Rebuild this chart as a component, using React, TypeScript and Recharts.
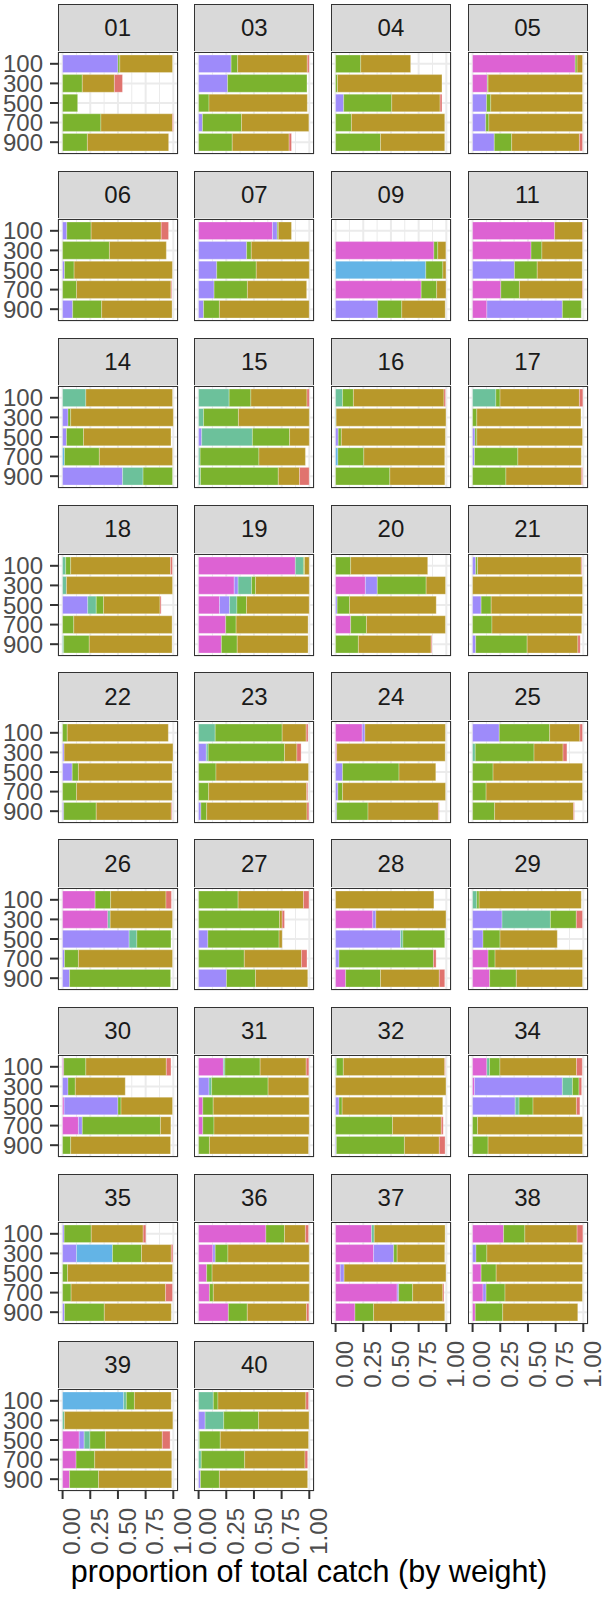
import React from "react";
import { BarChart, Bar, XAxis, YAxis, CartesianGrid } from "recharts";

// depth bands (y categories) and catch groups (stack order left -> right)
const DEPTHS = ["100", "300", "500", "700", "900"];
const GROUPS = ["g1", "g2", "g3", "g4", "g5", "g6", "g7"];
const GROUP_COLORS = ["#DD62D3", "#9E8BFA", "#63B4E6", "#6CC19B", "#7BB32E", "#B8982A", "#E0736E"];
const X_TICKS = [0, 0.25, 0.5, 0.75, 1];
const X_MINOR = [0.125, 0.375, 0.625, 0.875];

// proportions per depth row: [g1 .. g7]
const p01 = [[0, .50, 0, 0, .017, .476, 0], [0, 0, 0, 0, .178, .29, .073], [0, 0, 0, 0, .136, 0, 0], [0, 0, 0, 0, .346, .647, .007], [0, 0, 0, 0, .224, .734, 0]];
const p03 = [[0, .294, 0, 0, .059, .629, .017], [0, .262, 0, 0, .717, 0, 0], [0, 0, 0, 0, .094, .888, 0], [0, .035, 0, 0, .353, .608, 0], [0, 0, 0, 0, .304, .514, .021]];
const p04 = [[0, 0, 0, 0, .227, .451, 0], [0, 0, 0, 0, .017, .944, 0], [0, .073, 0, 0, .434, .437, .017], [0, 0, 0, 0, .143, .843, 0], [0, 0, 0, 0, .406, .58, 0]];
const p05 = [[.927, 0, 0, 0, .017, .049, 0], [.133, 0, 0, 0, .007, .853, 0], [0, .126, 0, 0, .038, .829, 0], [0, .119, 0, 0, .028, .846, 0], [0, .196, 0, 0, .157, .612, .028]];
const p06 = [[0, .038, 0, 0, .22, .633, .066], [0, 0, 0, 0, .423, .514, 0], [0, .017, 0, 0, .087, .888, 0], [0, 0, 0, 0, .126, .853, .007], [0, .091, 0, 0, .262, .636, 0]];
const p07 = [[.668, .042, 0, 0, .01, .119, 0], [0, .434, 0, 0, .042, .524, 0], [0, .164, 0, 0, .357, .479, 0], [0, .14, 0, 0, .301, .535, 0], [0, .045, 0, 0, .143, .811, 0]];
const p09 = [[0, 0, 0, 0, 0, 0, 0], [.888, 0, 0, 0, .035, .073, 0], [0, 0, .815, 0, .154, .028, 0], [.773, 0, 0, 0, .14, .084, 0], [0, .381, 0, 0, .217, .392, 0]];
const p11 = [[.741, 0, 0, 0, 0, .252, .005], [.528, 0, 0, 0, .098, .367, 0], [0, .378, 0, 0, .206, .406, 0], [.255, 0, 0, 0, .168, .57, .005], [.129, .682, 0, 0, .171, 0, 0]];
const p14 = [[0, 0, 0, .21, 0, .783, 0], [0, .049, 0, 0, .024, .927, 0], [0, .035, 0, 0, .154, .79, 0], [0, 0, .017, 0, .315, .661, 0], [0, .542, 0, .185, .266, 0, 0]];
const p15 = [[0, 0, 0, .276, .196, .507, .021], [0, 0, 0, .045, .315, .64, 0], [0, .028, 0, .458, .336, .178, 0], [0, 0, 0, .014, .531, .42, 0], [0, 0, 0, .017, .703, .192, .087]];
const p16 = [[0, 0, 0, .063, .098, .818, .014], [0, 0, 0, .005, 0, .992, 0], [0, .024, 0, 0, .028, .94, 0], [0, 0, .021, 0, .234, .731, 0], [0, 0, 0, 0, .49, .497, 0]];
const p17 = [[0, 0, 0, .21, .038, .717, .031], [0, 0, 0, 0, .038, .941, 0], [0, .021, 0, 0, .017, .955, 0], [0, .017, 0, 0, .392, .573, 0], [0, 0, 0, 0, .301, .682, .01]];
const p18 = [[0, 0, 0, .028, .045, .902, .017], [0, 0, 0, .035, 0, .958, 0], [0, .227, 0, .077, .066, .51, .01], [0, 0, 0, 0, .101, .888, 0], [0, 0, 0, .01, .231, .748, 0]];
const p19 = [[.874, 0, 0, .073, .01, .042, 0], [.322, .035, 0, .122, .035, .486, 0], [.189, .091, 0, .066, .087, .566, 0], [.245, 0, 0, 0, .094, .65, 0], [.206, 0, 0, 0, .143, .64, 0]];
const p20 = [[0, 0, 0, 0, .136, .696, 0], [.269, .108, 0, 0, .441, .175, 0], [0, .014, 0, 0, .112, .783, 0], [.136, 0, 0, 0, .143, .713, 0], [0, 0, 0, 0, .206, .657, .007]];
const p21 = [[0, .028, 0, 0, .017, .937, .007], [0, 0, 0, 0, 0, .993, 0], [0, .077, 0, 0, .091, .825, 0], [0, 0, 0, 0, .175, .811, 0], [0, .028, 0, 0, .465, .458, .021]];
const p22 = [[0, 0, 0, 0, .042, .913, 0], [0, .014, 0, 0, 0, .983, 0], [0, .087, 0, 0, .056, .846, 0], [0, 0, 0, 0, .126, .864, 0], [0, .01, 0, 0, .294, .678, .007]];
const p23 = [[0, 0, 0, .15, .605, .217, .017], [0, .07, 0, .017, .689, .112, .038], [0, 0, 0, 0, .157, .836, 0], [0, 0, 0, 0, .091, .885, .01], [0, .021, 0, 0, .052, .906, .017]];
const p24 = [[.241, .024, 0, 0, 0, .727, 0], [.01, 0, 0, 0, 0, .98, 0], [0, .063, 0, 0, .51, .332, 0], [0, .021, 0, 0, .042, .93, 0], [0, .01, 0, 0, .283, .636, .007]];
const p25 = [[0, .241, 0, 0, .455, .273, .024], [0, 0, 0, .024, .531, .262, .035], [0, 0, 0, 0, .185, .808, 0], [0, 0, 0, 0, .122, .871, 0], [0, 0, 0, 0, .199, .713, .007]];
const p26 = [[.294, 0, 0, 0, .14, .5, .049], [.409, 0, 0, .021, 0, .563, 0], [0, .601, 0, .07, .308, 0, 0], [0, .017, 0, 0, .126, .85, 0], [0, .063, 0, 0, .913, 0, 0]];
const p27 = [[0, 0, 0, 0, .357, .591, .049], [0, 0, 0, 0, .731, .024, .021], [0, .084, 0, 0, .643, .028, 0], [0, 0, 0, 0, .413, .517, .049], [0, .252, 0, 0, .262, .472, 0]];
const p28 = [[0, 0, 0, 0, 0, .888, 0], [.336, .028, 0, 0, 0, .633, 0], [0, .587, 0, .021, .378, 0, 0], [0, .031, 0, 0, .853, 0, .024], [.091, 0, 0, 0, .315, .531, .049]];
const p29 = [[0, 0, 0, .038, .021, .923, 0], [0, .266, 0, .437, .234, 0, .056], [0, .094, 0, 0, .154, .517, 0], [.14, 0, 0, 0, .063, .79, 0], [.154, 0, 0, 0, .241, .598, 0]];
const p30 = [[.01, 0, 0, 0, .2, .727, .042], [0, .049, 0, 0, .066, .451, 0], [.014, .486, 0, 0, .028, .465, 0], [.143, .035, 0, 0, .706, .094, 0], [0, 0, 0, 0, .073, .902, 0]];
const p31 = [[.224, 0, 0, .014, .318, .416, .024], [0, .094, 0, .024, .51, .367, 0], [.038, 0, 0, 0, .094, .867, 0], [.038, 0, 0, 0, .101, .86, 0], [0, 0, 0, 0, .098, .895, 0]];
const p32 = [[0, 0, 0, .007, .063, .916, .005], [0, 0, 0, 0, 0, .997, 0], [0, .031, 0, 0, .028, .909, 0], [0, 0, 0, 0, .514, .441, .017], [0, .007, 0, 0, .615, .315, .052]];
const p34 = [[.129, 0, 0, .024, .094, .692, .052], [.017, .794, 0, .091, .059, 0, .024], [0, .385, 0, .035, .126, .392, .031], [0, 0, 0, 0, .045, .948, 0], [0, 0, 0, 0, .14, .853, 0]];
const p35 = [[0, .014, 0, 0, .245, .469, .024], [0, .126, .325, 0, .262, .269, .014], [0, 0, 0, 0, .045, .948, 0], [0, 0, 0, 0, .077, .853, .063], [0, .017, 0, 0, .36, .605, 0]];
const p36 = [[.608, 0, 0, 0, .168, .189, .028], [.129, .021, 0, 0, .115, .734, 0], [.073, 0, 0, 0, .049, .878, 0], [.098, 0, 0, 0, .035, .867, 0], [.269, 0, 0, 0, .171, .535, .021]];
const p37 = [[.325, 0, 0, .024, 0, .64, 0], [.343, .182, 0, 0, .031, .43, 0], [.042, .035, 0, 0, 0, .92, 0], [.556, .014, 0, 0, .126, .273, .01], [.175, 0, 0, 0, .168, .643, 0]];
const p38 = [[.28, 0, 0, 0, .192, .472, .052], [0, .031, 0, 0, .098, .864, 0], [.077, 0, 0, 0, .136, .78, 0], [.094, .028, 0, 0, .171, .699, 0], [.024, 0, 0, 0, .248, .678, 0]];
const p39 = [[0, 0, .552, .024, .073, .332, 0], [0, 0, 0, .017, 0, .979, 0], [.15, .045, 0, .052, .14, .514, .07], [.122, 0, 0, 0, .168, .696, 0], [.063, 0, 0, 0, .262, .661, 0]];
const p40 = [[0, 0, 0, .133, .042, .794, .024], [0, .059, 0, .168, .315, .455, 0], [0, 0, 0, .007, .189, .797, 0], [0, 0, 0, .024, .392, .545, .024], [0, .017, 0, 0, .171, .797, 0]];

const PANEL_IDS = ["01", "03", "04", "05", "06", "07", "09", "11", "14", "15", "16", "17", "18", "19", "20", "21", "22", "23", "24", "25", "26", "27", "28", "29", "30", "31", "32", "34", "35", "36", "37", "38", "39", "40"];
const PANEL_VALUES = [p01, p03, p04, p05, p06, p07, p09, p11, p14, p15, p16, p17, p18, p19, p20, p21, p22, p23, p24, p25, p26, p27, p28, p29, p30, p31, p32, p34, p35, p36, p37, p38, p39, p40];

const FONT = "'Liberation Sans', Arial, sans-serif";
const NCOL = 4;
const COL0 = 57.7;
const COL_STEP = 136.6;
const ROW0 = 4;
const ROW_STEP = 167.09;
const PW = 120;
const PH = 102;
const STRIP_H = 48.3;
const Y_AXIS_W = 58;
const X_AXIS_H = 72;
const PAD = 14; // extra room around the plot so labels are not clipped
const PAD_R = 26;
const DOMAIN: [number, number] = [-0.0415, 1.0425];

function XTick(props: any) {
  const { x, y, payload } = props;
  return (
    <text x={x} y={y} dy="0.74em" transform={`rotate(-90 ${x} ${y})`} textAnchor="end"
      fontSize={24} fill="#4D4D4D" fontFamily={FONT}>
      {Number(payload.value).toFixed(2)}
    </text>
  );
}

function Panel({ idx }: { idx: number }) {
  const n = PANEL_IDS.length;
  const col = idx % NCOL;
  const row = Math.floor(idx / NCOL);
  const hasY = col === 0;
  const hasX = idx + NCOL >= n;
  const left = COL0 + col * COL_STEP;
  const stripTop = ROW0 + row * ROW_STEP;
  const panelTop = stripTop + STRIP_H;

  const data = DEPTHS.map((d, i) => {
    const rec: Record<string, any> = { depth: d };
    GROUPS.forEach((g, j) => { rec[g] = PANEL_VALUES[idx][i][j]; });
    return rec;
  });

  const mLeft = hasY ? Y_AXIS_W : 0;
  const margin = { top: PAD, right: PAD_R, bottom: PAD, left: 0 };

  return (
    <>
      <div style={{
        position: "absolute", left, top: stripTop, width: PW, height: STRIP_H, boxSizing: "border-box",
        background: "#D9D9D9", border: "1px solid #333333", display: "flex", alignItems: "center",
        justifyContent: "center", fontSize: 24, color: "#1A1A1A",
      }}>{PANEL_IDS[idx]}</div>
      <div style={{ position: "absolute", left: left - mLeft, top: panelTop - PAD }}>
        <BarChart width={PW + mLeft + PAD_R} height={PH + (hasX ? X_AXIS_H : 0) + 2 * PAD} data={data}
          layout="vertical" margin={margin} barCategoryGap={0}>
          <CartesianGrid stroke="#EBEBEB" strokeWidth={1} horizontal={false} verticalValues={X_MINOR} />
          <CartesianGrid stroke="#EBEBEB" strokeWidth={2} />
          <XAxis type="number" domain={DOMAIN} allowDataOverflow ticks={X_TICKS} hide={!hasX}
            height={hasX ? X_AXIS_H : 0} tickSize={8} tickMargin={9} axisLine={false}
            tickLine={{ stroke: "#333333", strokeWidth: 2 }} tick={<XTick />} interval={0} />
          <YAxis type="category" dataKey="depth" hide={!hasY} width={mLeft}
            padding={{ top: 2, bottom: 2 }} tickSize={8} tickMargin={7} axisLine={false}
            tickLine={{ stroke: "#333333", strokeWidth: 2 }} interval={0}
            tick={{ fontSize: 24, fill: "#4D4D4D", fontFamily: FONT }} />
          {GROUPS.map((g, j) => (
            <Bar key={g} dataKey={g} stackId="s" fill={GROUP_COLORS[j]} barSize={17.6}
              stroke="#FFFFFF" strokeOpacity={0.35} strokeWidth={0.8} isAnimationActive={false} />
          ))}
        </BarChart>
      </div>
      <div style={{
        position: "absolute", left, top: panelTop, width: PW, height: PH, boxSizing: "border-box",
        border: "1px solid #333333", pointerEvents: "none",
      }} />
    </>
  );
}

export default function App() {
  return (
    <div style={{ position: "absolute", left: 0, top: 0, width: 606, height: 1610, background: "#fff", fontFamily: FONT }}>
      {PANEL_IDS.map((id, i) => <Panel key={id} idx={i} />)}
      <div style={{
        position: "absolute", left: 0, top: 1556, width: 618, textAlign: "center",
        fontSize: 30.5, lineHeight: "30px", color: "#000",
      }}>proportion of total catch (by weight)</div>
    </div>
  );
}
